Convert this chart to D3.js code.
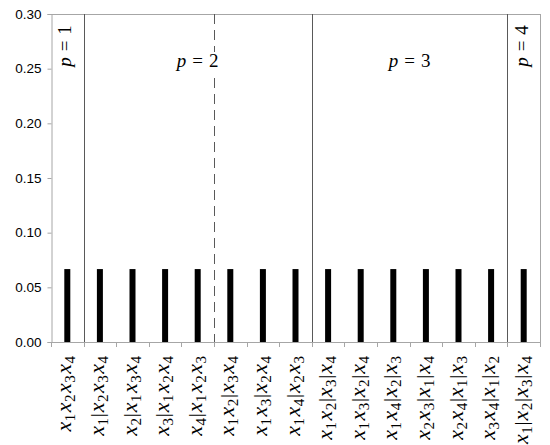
<!DOCTYPE html>
<html><head><meta charset="utf-8">
<script src="https://cdn.jsdelivr.net/npm/d3@7"></script>
<style>html,body{margin:0;padding:0;background:#fff;}svg{display:block;}</style>
</head><body>
<svg id="chart" width="550" height="445"></svg>
<script>
const categories = ["x1x2x3x4","x1|x2x3x4","x2|x1x3x4","x3|x1x2x4","x4|x1x2x3","x1x2|x3x4","x1x3|x2x4","x1x4|x2x3","x1x2|x3|x4","x1x3|x2|x4","x1x4|x2|x3","x2x3|x1|x4","x2x4|x1|x3","x3x4|x1|x2","x1|x2|x3|x4"];
const values = [0.0667,0.0667,0.0667,0.0667,0.0667,0.0667,0.0667,0.0667,0.0667,0.0667,0.0667,0.0667,0.0667,0.0667,0.0667];
const yTicks = [0,0.05,0.10,0.15,0.20,0.25,0.30];
const groupLabels = ["1","2","3","4"];
const groupStart = [0,1,8,14];
const groupEnd = [0,7,13,14];
const groupRotated = [true,false,false,true];
const dashedAfter = [4];

const svg = d3.select("#chart");
const M = {left:51, right:540, top:14, bottom:342};
const x = d3.scaleBand().domain(d3.range(categories.length)).range([M.left, M.right]).padding(0);
const y = d3.scaleLinear().domain([0,0.30]).range([M.bottom, M.top]);
const axisColor = "#a6a6a6", sepColor = "#595959";

svg.append("line").attr("x1",M.left).attr("x2",M.right).attr("y1",M.top+0.5).attr("y2",M.top+0.5).attr("stroke",axisColor);
svg.append("line").attr("x1",M.right+0.5).attr("x2",M.right+0.5).attr("y1",M.top).attr("y2",M.bottom).attr("stroke",axisColor);

const yAx = svg.append("g").attr("transform",`translate(${M.left+0.5},0)`)
  .call(d3.axisLeft(y).tickValues(yTicks).tickFormat(d3.format(".2f")).tickSize(4).tickPadding(6));
yAx.select(".domain").attr("stroke",axisColor);
yAx.selectAll(".tick line").attr("stroke",axisColor);
yAx.selectAll("text").attr("font-family","Liberation Sans, Arial, sans-serif").attr("font-size","13.5px").attr("fill","#000");

const bounds = d3.range(categories.length+1).map(i => i===categories.length ? x.range()[1] : x(i));
svg.append("line").attr("x1",M.left).attr("x2",M.right).attr("y1",M.bottom+0.5).attr("y2",M.bottom+0.5).attr("stroke",axisColor);
svg.selectAll(".xt").data(bounds).enter().append("line")
  .attr("x1",d=>Math.round(d)+0.5).attr("x2",d=>Math.round(d)+0.5)
  .attr("y1",M.bottom).attr("y2",M.bottom+5).attr("stroke",axisColor);

groupEnd.slice(0,3).forEach((e,i)=>{
  const xx = Math.round(x(e)+x.bandwidth())+0.5;
  svg.append("line").attr("x1",xx).attr("x2",xx).attr("y1",M.top).attr("y2",M.bottom).attr("stroke",sepColor);
});
dashedAfter.forEach(e=>{
  const xx = Math.round(x(e)+x.bandwidth())+0.5;
  svg.append("line").attr("x1",xx).attr("x2",xx).attr("y1",M.top).attr("y2",M.bottom)
    .attr("stroke",sepColor).attr("stroke-dasharray","10,6");
});

const bw = 6;
svg.selectAll(".bar").data(values).enter().append("rect")
  .attr("x",(d,i)=>x(i)+x.bandwidth()/2-bw/2).attr("width",bw)
  .attr("y",d=>y(d)).attr("height",d=>y(0)-y(d)).attr("fill","#000");

const mathFont = "Liberation Serif, Times New Roman, serif";
function pLabel(g, num){
  const t = g.append("text").attr("font-family",mathFont).attr("font-size","19px").attr("text-anchor","middle").attr("fill","#000");
  t.append("tspan").attr("font-style","italic").text("p");
  t.append("tspan").attr("dx","6").text("=");
  t.append("tspan").attr("dx","6").text(num);
  return t;
}
groupLabels.forEach((lab,i)=>{
  const x0 = x(groupStart[i]), x1 = x(groupEnd[i])+x.bandwidth();
  const cx = (x0+x1)/2;
  if(groupRotated[i]){
    const g = svg.append("g").attr("transform",`translate(${cx+4},46) rotate(-90)`);
    pLabel(g, lab);
  } else {
    const g = svg.append("g").attr("transform",`translate(${cx},67)`);
    if(i===1){
      g.append("rect").attr("x",-24).attr("y",-15).attr("width",48).attr("height",21).attr("fill","#fff");
    }
    pLabel(g, lab);
  }
});

function addLabel(i, str){
  const cx = x(i)+x.bandwidth()/2;
  const g = svg.append("g").attr("transform",`translate(${cx+4},356) rotate(-90)`);
  const t = g.append("text").attr("font-family",mathFont).attr("font-size","22px").attr("text-anchor","end").attr("fill","#000");
  let sub = false, prevBar = false;
  for(let k=0;k<str.length;k++){
    const c = str[k];
    if(c==="x"){
      t.append("tspan").attr("font-style","italic").attr("dy", sub? -4 : 0).attr("dx", k>0 ? (prevBar ? 1 : 1.5) : 0).text("x");
      sub=false; prevBar=false;
    } else if(c==="|"){
      t.append("tspan").attr("dy", sub? -4 : 0).attr("dx",1).attr("font-size","18px").text("|");
      sub=false; prevBar=true;
    } else {
      t.append("tspan").attr("font-size","15px").attr("dy",4).attr("dx",0.5).text(c);
      sub=true;
    }
  }
}
categories.forEach((c,i)=>addLabel(i,c));
</script>
</body></html>
